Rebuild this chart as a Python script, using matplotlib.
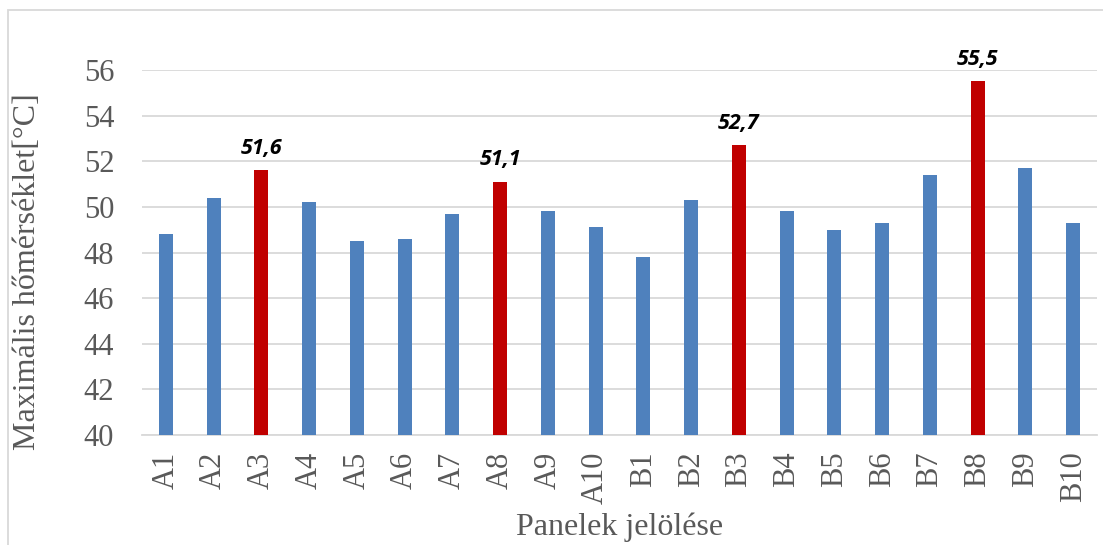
import matplotlib.pyplot as plt
from matplotlib.patches import Rectangle

labels = ['A1', 'A2', 'A3', 'A4', 'A5', 'A6', 'A7', 'A8', 'A9', 'A10',
          'B1', 'B2', 'B3', 'B4', 'B5', 'B6', 'B7', 'B8', 'B9', 'B10']
values = [48.8, 50.4, 51.6, 50.2, 48.5, 48.6, 49.7, 51.1, 49.8, 49.1,
          47.8, 50.3, 52.7, 49.8, 49.0, 49.3, 51.4, 55.5, 51.7, 49.3]
highlight = ['A3', 'A8', 'B3', 'B8']

W, H = 1103, 545
fig = plt.figure(figsize=(W / 100, H / 100), dpi=100)
ax = fig.add_axes([142 / W, 1 - 435 / H, (1097 - 142) / W, (435 - 70) / H])

colors = ['#C00000' if l in highlight else '#4F81BD' for l in labels]
x = range(len(labels))
ax.bar(x, values, width=0.29, color=colors, zorder=3)

for i, (l, v) in enumerate(zip(labels, values)):
    if l in highlight:
        ax.text(i, v + 0.5, f'{v:.1f}'.replace('.', ','), ha='center', va='bottom',
                fontsize=15.5, fontweight='bold', fontstyle='italic',
                family='Open Sans', color='black')

ax.set_xlim(-0.5, len(labels) - 0.5)
ax.set_ylim(40, 56)
ax.set_yticks(range(40, 57, 2))
ax.yaxis.grid(True, color='#D9D9D9', lw=1.3, zorder=0)
for s in ['top', 'right', 'left']:
    ax.spines[s].set_visible(False)
ax.spines['bottom'].set_color('#D9D9D9')
ax.spines['bottom'].set_linewidth(1.3)
ax.tick_params(axis='y', length=0, labelsize=22, labelcolor='#595959', pad=20)
ax.tick_params(axis='x', length=0, labelsize=22, labelcolor='#595959', pad=12)
ax.set_xticks(list(x))
ax.set_xticklabels(labels, rotation=90, family='Liberation Serif')
for t in ax.get_yticklabels():
    t.set_family('Liberation Serif')

fig.text(28 / W, 1 - 272 / H, 'Maximális hőmérséklet[°C]', rotation=90,
         ha='center', va='center', family='Liberation Serif',
         fontsize=23, color='#595959')
fig.text(620 / W, 1 - 527 / H, 'Panelek jelölése', ha='center', va='center',
         family='Liberation Serif', fontsize=23, color='#595959')

fig.patches.append(Rectangle((8 / W, -0.05), 1.2, 1 - 10 / H + 0.05,
                             transform=fig.transFigure, fill=False,
                             edgecolor='#D9D9D9', lw=1.3))

fig.savefig('out.png', dpi=100)
